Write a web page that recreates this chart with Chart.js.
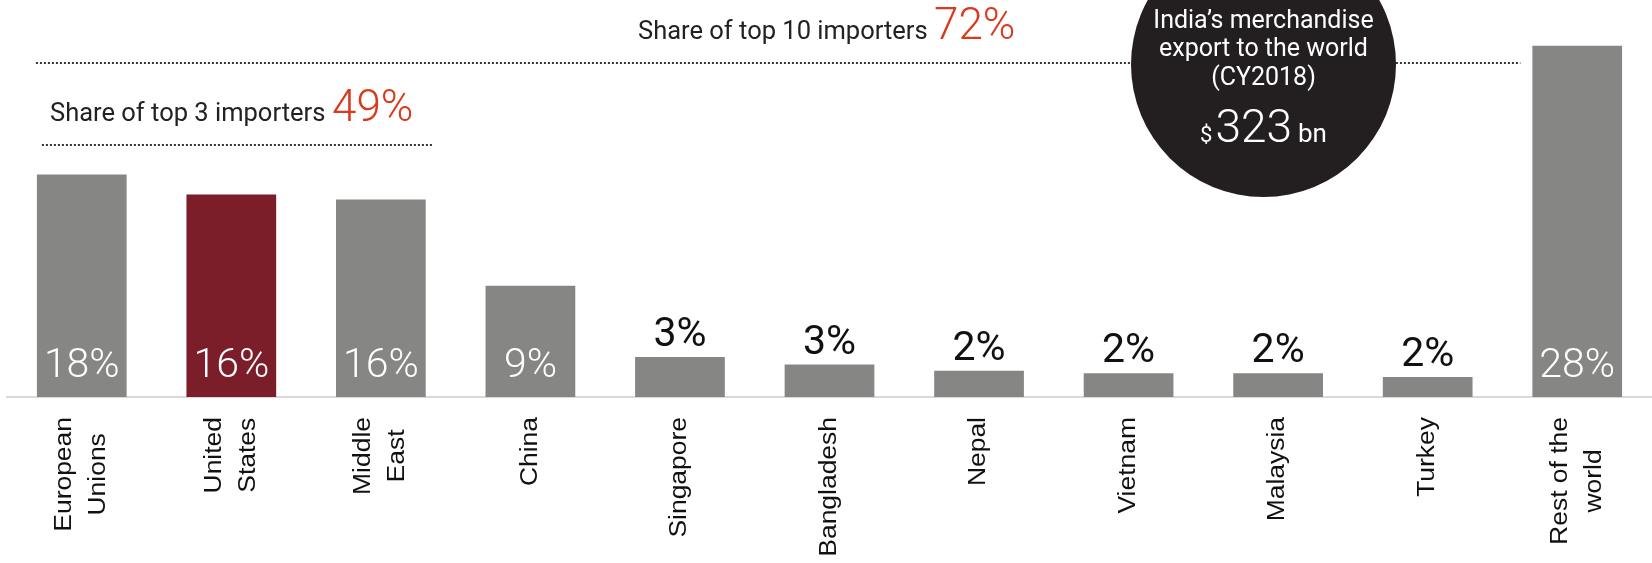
<!DOCTYPE html>
<html>
<head>
<meta charset="utf-8">
<script src="https://cdn.jsdelivr.net/npm/chart.js@4"></script>
<style>
  html, body { margin: 0; padding: 0; background: #fff; }
  #wrap { width: 1652px; height: 563px; }
</style>
</head>
<body>
<div id="wrap"><canvas id="exportChart" width="1652" height="563"></canvas></div>
<script>
    // --- DATA ---
    const categories = [
        ["European", "Unions"], ["United", "States"], ["Middle", "East"], ["China"],
        ["Singapore"], ["Bangladesh"], ["Nepal"], ["Vietnam"], ["Malaysia"], ["Turkey"],
        ["Rest of the", "world"]
    ];
    const shares = [17.8, 16.2, 15.8, 8.9, 3.2, 2.6, 2.1, 1.9, 1.9, 1.6, 28.1];
    const shareLabels = ["18%", "16%", "16%", "9%", "3%", "3%", "2%", "2%", "2%", "2%", "28%"];
    const top3Share = "49%";
    const top10Share = "72%";
    const totalExport = "323";

    const GREY = '#868684';
    const MAROON = '#7b1e2a';
    const RED = '#d93a1e';
    const highlighted = 1; // United States

    // --- LABELS ON / ABOVE BARS + ROTATED CATEGORY NAMES ---
    const barText = {
        id: 'barText',
        afterDatasetsDraw(chart) {
            const { ctx } = chart;
            const meta = chart.getDatasetMeta(0);
            const base = chart.scales.y.getPixelForValue(0);

            ctx.save();
            ctx.textAlign = 'center';
            ctx.textBaseline = 'alphabetic';
            meta.data.forEach((bar, i) => {
                const inside = shares[i] > 5;
                ctx.font = inside ? '300 41px Roboto' : '41px Roboto';
                ctx.fillStyle = inside ? '#ffffff' : '#111111';
                ctx.fillText(shareLabels[i], bar.x, inside ? base - 20 : bar.y - 11);
            });
            ctx.restore();

            // category names, rotated, top aligned under the axis
            ctx.save();
            ctx.font = '23px "Liberation Sans", Arial, sans-serif';
            ctx.fillStyle = '#111111';
            const labelTop = base + 20;
            meta.data.forEach((bar, i) => {
                const lines = categories[i];
                const widest = Math.max(...lines.map(l => ctx.measureText(l).width));
                ctx.save();
                ctx.translate(bar.x, labelTop);
                ctx.rotate(-Math.PI / 2);
                ctx.scale(1.15, 1);
                ctx.textAlign = 'center';
                ctx.textBaseline = 'middle';
                lines.forEach((line, j) => {
                    ctx.fillText(line, -widest / 2, (j - (lines.length - 1) / 2) * 34);
                });
                ctx.restore();
            });
            ctx.restore();
        },
        afterDraw(chart) {
            const { ctx } = chart;
            const meta = chart.getDatasetMeta(0).data;
            const half = meta[0].width / 2;

            const dotted = (x1, x2, y) => {
                ctx.save();
                ctx.strokeStyle = '#333333';
                ctx.lineWidth = 2;
                ctx.setLineDash([2, 2]);
                ctx.beginPath();
                ctx.moveTo(x1, y);
                ctx.lineTo(x2, y);
                ctx.stroke();
                ctx.restore();
            };

            // top 10 importers
            dotted(meta[0].x - half - 1, meta[10].x - half - 12, 63);
            ctx.save();
            ctx.textBaseline = 'alphabetic';
            ctx.textAlign = 'left';
            ctx.fillStyle = '#222222';
            ctx.font = '25.5px Roboto';
            ctx.fillText('Share of top 10 importers', 638, 39);
            ctx.fillStyle = RED;
            ctx.font = '300 44px Roboto';
            ctx.fillText(top10Share, 934, 39);
            ctx.restore();

            // top 3 importers
            dotted(meta[0].x - half + 5, meta[2].x + half + 7, 145);
            ctx.save();
            ctx.textBaseline = 'alphabetic';
            ctx.fillStyle = '#222222';
            ctx.font = '25.5px Roboto';
            ctx.fillText('Share of top 3 importers', 50, 121);
            ctx.fillStyle = RED;
            ctx.font = '300 44px Roboto';
            ctx.fillText(top3Share, 332, 121);
            ctx.restore();

            // black disc with total
            const cx = 1263.5, cy = 64.5;
            ctx.save();
            ctx.fillStyle = '#231f20';
            ctx.beginPath();
            ctx.arc(cx, cy, 132.5, 0, Math.PI * 2);
            ctx.fill();
            ctx.fillStyle = '#ffffff';
            ctx.textAlign = 'center';
            ctx.textBaseline = 'alphabetic';
            ctx.font = '25px Roboto';
            ctx.fillText('India\u2019s merchandise', cx, 28);
            ctx.fillText('export to the world', cx, 56);
            ctx.fillText('(CY2018)', cx, 85);

            ctx.textAlign = 'left';
            ctx.font = '22px Roboto';
            const wDollar = ctx.measureText('$').width;
            ctx.font = '300 46px Roboto';
            const wNum = ctx.measureText(totalExport).width;
            ctx.font = '26px Roboto';
            const wBn = ctx.measureText('bn').width;
            let x = cx - (wDollar + 3 + wNum + 6 + wBn) / 2;
            ctx.font = '22px Roboto';
            ctx.fillText('$', x, 142);
            x += wDollar + 3;
            ctx.font = '300 46px Roboto';
            ctx.fillText(totalExport, x, 142);
            x += wNum + 6;
            ctx.font = '26px Roboto';
            ctx.fillText('bn', x, 142);
            ctx.restore();
        }
    };

    // --- CHART INITIALIZATION ---
    const ctx = document.getElementById('exportChart').getContext('2d');
    const exportChart = new Chart(ctx, {
        type: 'bar',
        data: {
            labels: categories,
            datasets: [{
                data: shares,
                backgroundColor: (c) => c.dataIndex === highlighted ? MAROON : GREY,
                borderWidth: 0,
                barPercentage: 0.6,
                categoryPercentage: 1.0
            }]
        },
        options: {
            responsive: false,
            animation: false,
            layout: { padding: { left: 7, right: 0, top: 22, bottom: 166 } },
            scales: {
                x: {
                    grid: { display: false, drawTicks: false },
                    ticks: { display: false },
                    border: { display: true, color: '#d9d9d9', width: 2 }
                },
                y: { display: false, min: 0, max: 30 }
            },
            plugins: { legend: { display: false }, tooltip: { enabled: false } }
        },
        plugins: [barText]
    });
</script>
</body>
</html>
